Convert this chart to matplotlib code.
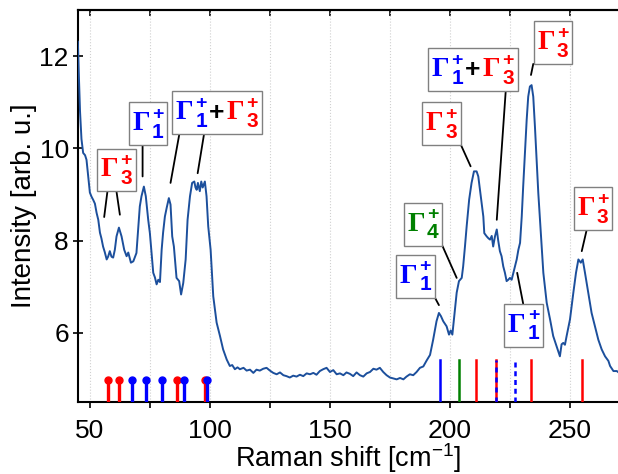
import numpy as np
import matplotlib
matplotlib.use("Agg")
import matplotlib.pyplot as plt
from matplotlib.offsetbox import TextArea, HPacker, VPacker, AnnotationBbox

plt.rcParams['font.family'] = ['Liberation Sans', 'DejaVu Sans']
plt.rcParams['mathtext.fontset'] = 'custom'
plt.rcParams['mathtext.rm'] = 'Liberation Sans'
plt.rcParams['mathtext.sf'] = 'Liberation Sans'

# ── Raman spectrum ───────────────────────────────────────────────────────
shift = [
    45.0, 45.4, 45.9, 46.5, 47.2, 48.0, 48.6, 49.3, 50.0, 50.7, 51.4, 52.1,
    52.8, 53.5, 54.2, 54.8, 55.5, 56.2, 57.0, 57.6, 58.3, 59.0, 59.7, 60.4,
    61.1, 62.1, 63.2, 64.3, 65.3, 66.0, 67.1, 68.1, 69.4, 70.2, 70.8, 71.5,
    72.5, 73.3, 74.3, 75.0, 75.7, 76.4, 77.1, 77.8, 78.5, 79.2, 79.9, 80.5,
    81.25, 82.0, 82.9, 83.6, 84.3, 85.0, 85.6, 86.1, 87.2, 88.0, 88.9, 89.9,
    90.7, 91.7, 92.6, 93.5, 94.0, 94.5, 95.0, 95.8, 96.4, 97.0, 97.9, 98.6,
    99.3, 100.3, 101.4, 102.8, 104.2, 105.5, 107.0, 108.3, 109.3, 110.4, 111.5,
    112.5, 114.0, 115.3, 116.7, 118.1, 119.4, 120.8, 122.2, 123.6, 125.0,
    126.4, 127.8, 129.2, 130.6, 131.9, 133.3, 134.7, 136.1, 137.5, 138.9,
    140.3, 141.7, 143.1, 144.4, 145.8, 147.2, 148.6, 150.0, 151.4, 152.8,
    154.2, 155.6, 156.9, 158.3, 159.7, 161.1, 162.5, 163.9, 165.3, 166.7,
    168.1, 169.4, 170.8, 172.2, 173.6, 175.0, 176.4, 177.8, 179.2, 180.6,
    181.9, 183.3, 184.7, 186.1, 187.5, 188.9, 190.3, 191.7, 193.0, 194.4,
    195.4, 196.25, 197.2, 198.6, 199.6, 200.3, 201.0, 201.8, 202.8, 203.75,
    204.9, 205.5, 206.25, 206.96, 208.0, 209.0, 210.0, 211.1, 211.8, 212.5,
    213.2, 213.9, 214.3, 215.3, 216.0, 216.7, 217.4, 218.0, 218.75, 219.5,
    220.1, 220.8, 221.5, 222.2, 222.9, 223.6, 224.3, 225.0, 225.7, 226.4,
    227.8, 228.5, 229.2, 229.9, 230.5, 231.25, 231.96, 232.6, 233.3, 234.0,
    234.7, 235.4, 236.1, 236.8, 237.5, 238.2, 238.9, 240.3, 241.7, 243.0,
    244.4, 245.8, 246.5, 247.2, 247.9, 248.6, 250.0, 251.4, 252.5, 253.5,
    254.5, 255.3, 256.25, 257.6, 259.0, 260.4, 261.8, 263.2, 264.6, 266.0,
    266.7, 268.1, 269.5, 270.0,
]
intensity = [
    12.31, 11.6, 10.8, 10.2, 9.90, 9.85, 9.75, 9.40, 9.04, 8.95, 8.88, 8.80,
    8.60, 8.45, 8.17, 8.05, 7.87, 7.75, 7.59, 7.65, 7.77, 7.65, 7.63, 7.80,
    8.09, 8.28, 8.09, 7.80, 7.66, 7.74, 7.52, 7.55, 7.73, 8.30, 8.74, 8.96,
    9.17, 8.96, 8.45, 8.16, 7.74, 7.30, 7.20, 7.05, 7.15, 7.10, 7.80, 8.17,
    8.52, 8.71, 8.92, 8.78, 8.09, 7.87, 7.50, 7.19, 7.12, 6.83, 7.08, 7.59,
    8.45, 8.96, 9.25, 9.28, 9.15, 9.10, 9.25, 9.07, 9.28, 9.15, 9.28, 8.96,
    8.31, 7.80, 6.79, 6.22, 5.93, 5.64, 5.42, 5.28, 5.30, 5.21, 5.25,
    5.21, 5.24, 5.18, 5.20, 5.13, 5.20, 5.18, 5.22, 5.24, 5.18,
    5.13, 5.10, 5.14, 5.08, 5.06, 5.03, 5.07, 5.05, 5.09, 5.06,
    5.12, 5.10, 5.13, 5.09, 5.17, 5.21, 5.24, 5.15, 5.19, 5.10,
    5.12, 5.08, 5.14, 5.11, 5.06, 5.14, 5.08, 5.05, 5.12, 5.15,
    5.22, 5.20, 5.24, 5.15, 5.08, 5.03, 5.01, 4.99, 5.02, 4.99,
    5.05, 5.10, 5.08, 5.15, 5.24, 5.27, 5.40, 5.52, 5.85, 6.25,
    6.43, 6.36, 6.25, 6.14, 5.96, 6.05, 5.96, 6.36, 6.87, 7.12,
    7.19, 7.44, 7.87, 8.31, 8.89, 9.25, 9.50, 9.50, 9.39, 9.10,
    8.81, 8.52, 8.16, 8.09, 8.05, 8.02, 8.10, 7.87, 8.09, 8.24,
    8.00, 7.77, 7.66, 7.44, 7.30, 7.12, 7.15, 7.19, 7.15, 7.30,
    7.59, 7.80, 7.95, 8.52, 9.17, 9.90, 10.62, 11.12, 11.34, 11.37,
    11.12, 10.47, 9.75, 9.03, 8.45, 7.87, 7.30, 6.65, 6.29, 5.93,
    5.71, 5.49, 5.75, 5.78, 5.74, 5.93, 6.29, 6.87, 7.30, 7.59,
    7.52, 7.59, 7.30, 6.87, 6.43, 6.14, 5.85, 5.64, 5.49, 5.39,
    5.28, 5.17, 5.17, 5.15,
]

# calculated mode positions (low-frequency: lollipops, high-frequency: bars)
low_modes = [57.4, 62.2, 67.6, 73.5, 79.9, 86.3, 89.2, 97.9, 99.0]
low_colors = ["red", "red", "blue", "blue", "blue", "red", "blue", "red", "blue"]
low_top = 4.98

high_modes = [195.7, 203.75, 211.0, 219.3, 227.1, 233.9, 255.1]
high_styles = ["blue", "green", "red", "redblue", "bluedot", "red", "red"]
high_top = 5.40

# peak labels: (irrep index, colour) pieces, box centre, leader lines
labels = [
    [("3", "red")],
    [("1", "blue")],
    [("1", "blue"), ("+", "black"), ("3", "red")],
    [("3", "red")],
    [("1", "blue"), ("+", "black"), ("3", "red")],
    [("3", "red")],
    [("3", "red")],
    [("4", "green")],
    [("1", "blue")],
    [("1", "blue")],
]
label_pos = [
    (61.1, 9.53), (74.25, 10.53), (102.9, 10.77), (196.5, 10.53),
    (209.6, 11.70), (242.8, 12.29), (259.5, 8.69), (188.75, 8.35),
    (185.6, 7.23), (230.7, 6.16),
]
leaders = [
    [((57.3, 9.06), (55.96, 8.51)), ((61.1, 9.06), (62.5, 8.56))],
    [((71.96, 10.06), (71.96, 9.39))],
    [((87.2, 10.29), (83.6, 9.25)), ((97.5, 10.29), (94.9, 9.46))],
    [((204.6, 10.07), (208.6, 9.61))],
    [((223.2, 11.22), (219.5, 8.45))],
    [((234.7, 11.83), (233.75, 11.59))],
    [((256.9, 8.22), (254.9, 7.77))],
    [((196.9, 7.88), (202.8, 7.19))],
    [((193.75, 6.76), (195.4, 6.60))],
    [((230.5, 6.63), (228.0, 7.30))],
]


def gamma_block(idx, color):
    """Gamma with stacked superscript '+' and subscript index."""
    g = TextArea("\u0393", textprops=dict(color=color, fontsize=20,
                                          family="Liberation Serif",
                                          fontweight="bold"))
    sup = TextArea("+", textprops=dict(color=color, fontsize=14,
                                       fontweight="bold"))
    sub = TextArea(idx, textprops=dict(color=color, fontsize=15,
                                       fontweight="bold"))
    stack = VPacker(children=[sup, sub], align="left", pad=0, sep=0)
    return HPacker(children=[g, stack], align="center", pad=0, sep=1.5)


# ── Plot ─────────────────────────────────────────────────────────────────
fig, ax = plt.subplots(figsize=(6.18, 4.74), dpi=100)
fig.subplots_adjust(left=0.126, right=1.0, top=0.979, bottom=0.152)

ax.set_xlim(45, 270)
ax.set_ylim(4.5, 13.0)
ybot = ax.get_ylim()[0]

ax.plot(shift, intensity, color="#1c4f9c", lw=1.4, zorder=3)

for x, c in zip(low_modes, low_colors):
    ax.plot([x, x], [ybot, low_top], color=c, lw=2.4, solid_capstyle="butt",
            zorder=4)
    ax.plot([x], [low_top], "o", color=c, ms=5, zorder=4)

for x, s in zip(high_modes, high_styles):
    if s == "redblue":
        ax.plot([x, x], [ybot, high_top], color="red", lw=1.8, zorder=4)
        ax.plot([x, x], [ybot, high_top], color="blue", lw=1.8,
                ls=(0, (2, 2)), zorder=4)
    elif s == "bluedot":
        ax.plot([x, x], [ybot, high_top], color="blue", lw=1.8,
                ls=(0, (2, 1.5)), zorder=4)
    else:
        ax.plot([x, x], [ybot, high_top], color=s, lw=1.8, zorder=4)

for pieces, pos, lines in zip(labels, label_pos, leaders):
    for start, tip in lines:
        ax.annotate("", xy=tip, xytext=start,
                    arrowprops=dict(arrowstyle="-", color="black", lw=1.3,
                                    shrinkA=0, shrinkB=0), zorder=5)
    parts = []
    for idx, c in pieces:
        if idx == "+":
            parts.append(TextArea("+", textprops=dict(color=c, fontsize=19,
                                                      fontweight="bold")))
        else:
            parts.append(gamma_block(idx, c))
    pack = HPacker(children=parts, align="center", pad=0, sep=1.5)
    ab = AnnotationBbox(pack, pos, xycoords="data", frameon=True, pad=0.25,
                        bboxprops=dict(edgecolor="#808080", lw=1.0,
                                       facecolor="white"), zorder=6)
    ax.add_artist(ab)

ax.set_xticks([50, 100, 150, 200, 250])
ax.set_xticks(np.arange(50, 275, 25), minor=True)
ax.set_yticks([6, 8, 10, 12])
ax.grid(True, axis="x", which="both", color="#d0d0d0", ls=":", lw=0.8)
ax.tick_params(axis="x", which="both", direction="out", length=4, width=1.2,
               labelsize=19, pad=8)
ax.tick_params(axis="y", which="both", direction="inout", length=7, width=1.2,
               labelsize=19, pad=3)
for sp in ax.spines.values():
    sp.set_linewidth(1.5)
ax.spines["right"].set_visible(False)

# inward ticks along the top edge
top = ax.secondary_xaxis("top")
top.set_xticks(np.arange(50, 275, 25))
top.tick_params(direction="in", length=4, width=1.2, labeltop=False)
top.spines["top"].set_linewidth(1.5)

ax.set_xlabel(r"Raman shift [cm$^{\mathsf{-1}}$]", fontsize=19.5, labelpad=-1)
ax.set_ylabel("Intensity [arb. u.]", fontsize=20, labelpad=2)

plt.savefig("out.png", dpi=100)
